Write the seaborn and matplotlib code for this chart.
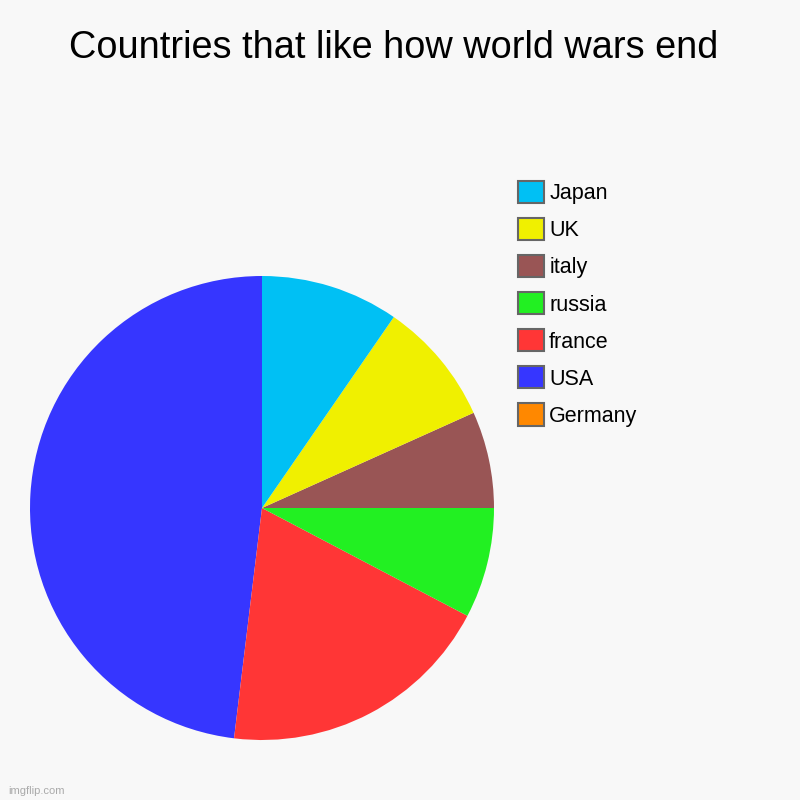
import matplotlib
matplotlib.use("Agg")
import matplotlib.pyplot as plt
import matplotlib.patches as mpatches
import seaborn as sns

# Data (drawing order, counterclockwise from 12 o'clock)
countries = ["Germany", "USA", "france", "russia", "italy", "UK", "Japan"]
values = [0, 50, 20, 8, 7, 9, 10]
colors = ["#ff8800", "#3636ff", "#ff3636", "#22f022", "#995555", "#f0f000", "#00c0f4"]
title = "Countries that like how world wars end"

sns.set_style("white")
plt.rcParams["font.family"] = ["Liberation Sans", "DejaVu Sans"]
plt.rcParams["text.color"] = "black"

fig = plt.figure(figsize=(8, 8), dpi=100)
fig.patch.set_facecolor("#f8f8f8")

ax = fig.add_axes([30 / 800, 60 / 800, 464 / 800, 464 / 800])
ax.set_facecolor("#f8f8f8")
palette = sns.color_palette(colors)
ax.pie(values, colors=palette, startangle=90, counterclock=True, radius=1,
       wedgeprops=dict(linewidth=0))
ax.set_xlim(-1, 1)
ax.set_ylim(-1, 1)
ax.set_aspect("equal")
ax.axis("off")

fig.text(394 / 800, 1 - 48 / 800, title, ha="center", va="center", fontsize=27.3, color="#000000")

handles = [mpatches.Patch(facecolor=c, edgecolor="#666666", linewidth=1.5, label=l)
           for l, c in zip(countries, palette)]
handles = handles[::-1]
leg = fig.legend(handles=handles, loc="upper left", bbox_to_anchor=(518 / 800, 1 - 181 / 800),
                 frameon=False, fontsize=15.5, handlelength=1.2, handleheight=1.2,
                 labelspacing=0.64, handletextpad=0.25, borderaxespad=0, borderpad=0)
for t in leg.get_texts():
    t.set_color("black")

fig.text(8 / 800, 1 - 791 / 800, "imgflip.com", ha="left", va="center", fontsize=8, color="#aaaaaa")

fig.savefig("out.png", dpi=100, facecolor=fig.get_facecolor())
